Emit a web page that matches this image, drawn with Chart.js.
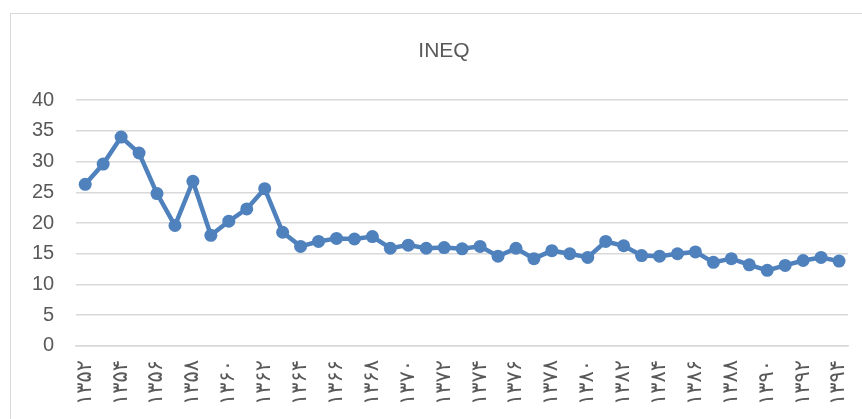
<html lang="fa">
<head>
  <meta charset="UTF-8">
  <title>INEQ</title>
  <script src="https://cdn.jsdelivr.net/npm/chart.js"></script>
  <style>
    body, html {
      margin: 0;
      padding: 0;
      background-color: #ffffff;
      overflow: hidden;
    }
    .frame {
      position: absolute;
      left: 10px;
      top: 13px;
      width: 900px;
      height: 450px;
      border: 1px solid #d9d9d9;
    }
    #ineqChart {
      position: absolute;
      left: 0;
      top: 0;
    }
  </style>
</head>
<body>
  <div class="frame"></div>
  <canvas id="ineqChart" width="862" height="419"></canvas>

  <script>
    const years = ['۱۳۵۲','۱۳۵۳','۱۳۵۴','۱۳۵۵','۱۳۵۶','۱۳۵۷','۱۳۵۸','۱۳۵۹','۱۳۶۰','۱۳۶۱',
                   '۱۳۶۲','۱۳۶۳','۱۳۶۴','۱۳۶۵','۱۳۶۶','۱۳۶۷','۱۳۶۸','۱۳۶۹','۱۳۷۰','۱۳۷۱',
                   '۱۳۷۲','۱۳۷۳','۱۳۷۴','۱۳۷۵','۱۳۷۶','۱۳۷۷','۱۳۷۸','۱۳۷۹','۱۳۸۰','۱۳۸۱',
                   '۱۳۸۲','۱۳۸۳','۱۳۸۴','۱۳۸۵','۱۳۸۶','۱۳۸۷','۱۳۸۸','۱۳۸۹','۱۳۹۰','۱۳۹۱',
                   '۱۳۹۲','۱۳۹۳','۱۳۹۴'];
    const ineq = [26.3, 29.6, 34.0, 31.4, 24.8, 19.6, 26.8, 18.0, 20.3, 22.3,
                  25.6, 18.5, 16.2, 17.0, 17.5, 17.4, 17.8, 15.9, 16.4, 15.9,
                  16.0, 15.8, 16.2, 14.6, 15.9, 14.2, 15.5, 15.0, 14.4, 17.0,
                  16.3, 14.7, 14.6, 15.0, 15.3, 13.6, 14.2, 13.2, 12.3, 13.1,
                  13.9, 14.4, 13.8];
    const yTicks = [0, 5, 10, 15, 20, 25, 30, 35, 40];

    // title sits centred on the frame, not on the canvas
    const shiftTitle = {
      id: 'shiftTitle',
      afterLayout(chart) {
        chart.titleBlock.left += 15;
        chart.titleBlock.right += 15;
      }
    };

    const ctx = document.getElementById('ineqChart').getContext('2d');
    const ineqChart = new Chart(ctx, {
      type: 'line',
      data: {
        labels: years,
        datasets: [{
          label: 'INEQ',
          data: ineq,
          borderColor: '#4f81bd',
          backgroundColor: '#4f81bd',
          borderWidth: 4.5,
          pointRadius: 6.5,
          pointBorderWidth: 0,
          pointBackgroundColor: '#4f81bd',
          tension: 0,
          fill: false
        }]
      },
      options: {
        responsive: false,
        animation: false,
        layout: {
          padding: { left: 10, right: 14, top: 0, bottom: 0 }
        },
        scales: {
          x: {
            offset: true,
            grid: { display: false, drawTicks: false },
            border: { color: '#d9d9d9', width: 1.5 },
            // rotated labels make the axis reserve room on the right; drop it
            afterFit: function(axis) {
              axis.paddingLeft = 0;
              axis.paddingRight = 0;
            },
            ticks: {
              autoSkip: false,
              maxRotation: 90,
              minRotation: 90,
              padding: 14,
              color: '#595959',
              font: { family: 'DejaVu Sans', size: 21 },
              callback: function(value, index) {
                return index % 2 === 0 ? years[index] : '';
              }
            }
          },
          y: {
            min: yTicks[0],
            max: yTicks[yTicks.length - 1],
            afterBuildTicks: function(axis) {
              axis.ticks = yTicks.map(v => ({ value: v }));
            },
            grid: { color: '#d9d9d9', lineWidth: 1.5, drawTicks: false },
            border: { display: false },
            ticks: {
              padding: 22,
              color: '#595959',
              font: { family: 'Liberation Sans', size: 20 }
            }
          }
        },
        plugins: {
          legend: { display: false },
          tooltip: { enabled: false },
          title: {
            display: true,
            text: 'INEQ',
            color: '#595959',
            font: { family: 'Liberation Sans', size: 21, weight: 'normal' },
            padding: { top: 39, bottom: 36 }
          }
        }
      },
      plugins: [shiftTitle]
    });
  </script>
</body>
</html>
